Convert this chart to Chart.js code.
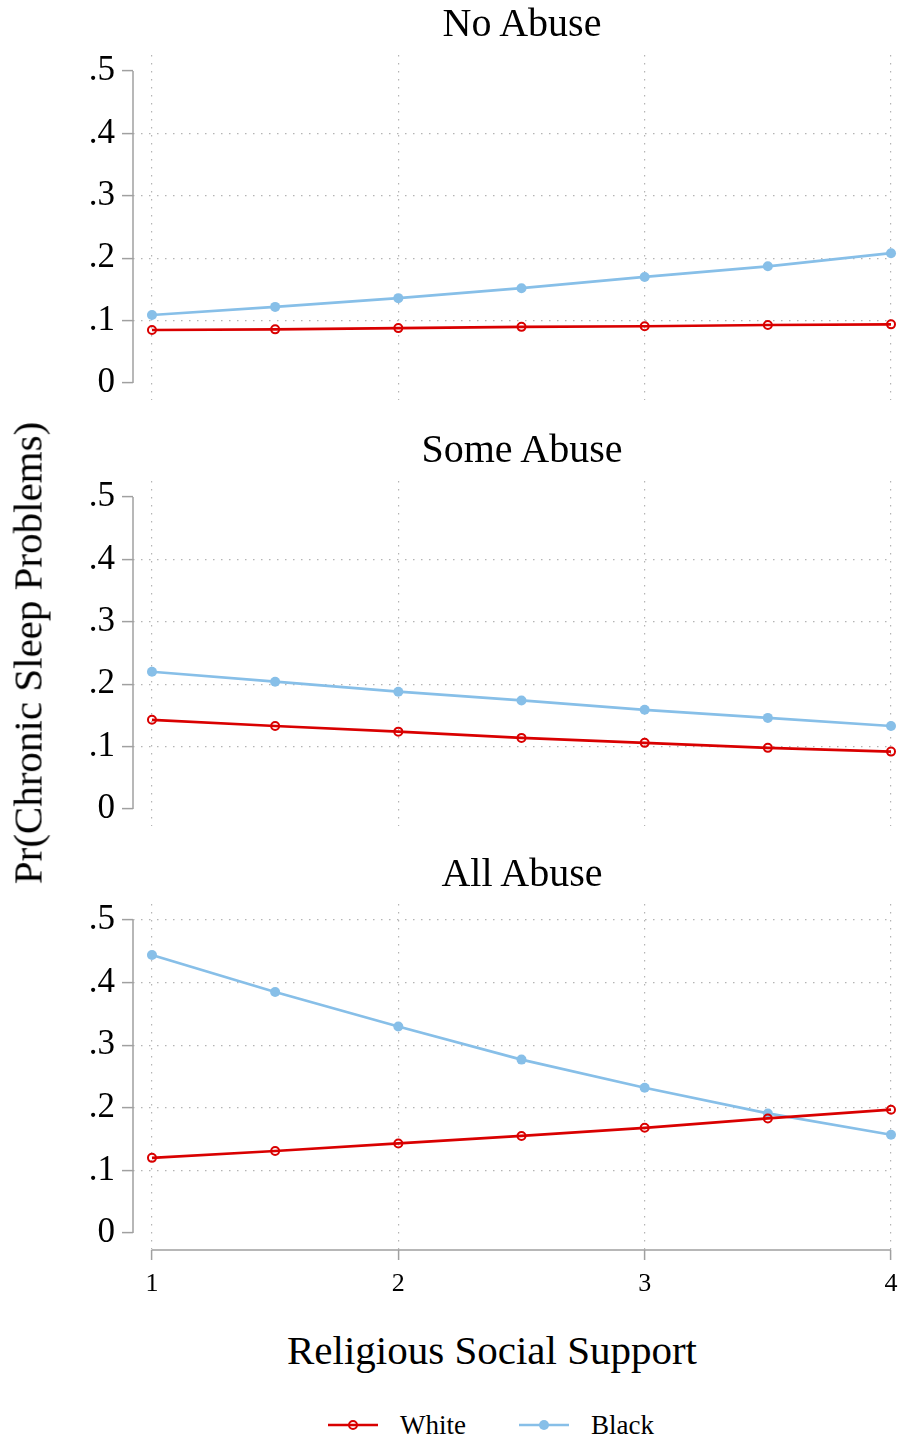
<!DOCTYPE html>
<html lang="en">

<head>
    <meta charset="UTF-8">
    <title>Pr(Chronic Sleep Problems) by Religious Social Support</title>
    <script src="https://cdn.jsdelivr.net/npm/chart.js"></script>
    <style>
        body {
            margin: 0;
            background: #fff;
            font-family: "Liberation Serif", "DejaVu Serif", serif;
            color: #000;
        }

        #page {
            position: relative;
            width: 898px;
            height: 1441px;
            overflow: hidden;
        }

        canvas {
            position: absolute;
            left: 0;
        }

        .label {
            position: absolute;
            white-space: nowrap;
            line-height: 1;
            transform: translate(-50%, -50%);
            z-index: 2;
        }

        .panel-title { font-size: 40px; left: 522px; }

        #ytitle {
            font-size: 41px;
            left: 28px;
            top: 653px;
            transform: translate(-50%, -50%) rotate(-90deg);
        }

        #xtitle { font-size: 41px; left: 492px; top: 1350px; }

        #legend {
            position: absolute;
            left: 328px;
            top: 1410px;
            height: 30px;
            display: flex;
            align-items: center;
            font-size: 27px;
        }

        #legend .item { display: flex; align-items: center; margin-right: 53px; }
        #legend svg { margin-right: 22px; }
    </style>
</head>

<body>
    <div id="page">
        <canvas id="panel1" width="898" height="415" style="top:20px"></canvas>
        <canvas id="panel2" width="898" height="415" style="top:446px"></canvas>
        <canvas id="panel3" width="898" height="431" style="top:869px"></canvas>

        <div class="label panel-title" id="title1" style="top:23px"></div>
        <div class="label panel-title" id="title2" style="top:449px"></div>
        <div class="label panel-title" id="title3" style="top:873px"></div>

        <div class="label" id="ytitle">Pr(Chronic Sleep Problems)</div>
        <div class="label" id="xtitle">Religious Social Support</div>
        <div id="legend"></div>
    </div>

    <script>
        // data
        const xValues = [1, 1.5, 2, 2.5, 3, 3.5, 4];
        const noAbuseWhite = [0.085, 0.086, 0.088, 0.090, 0.091, 0.093, 0.094];
        const noAbuseBlack = [0.109, 0.122, 0.136, 0.152, 0.170, 0.187, 0.208];
        const someAbuseWhite = [0.143, 0.133, 0.124, 0.114, 0.106, 0.098, 0.092];
        const someAbuseBlack = [0.220, 0.204, 0.188, 0.174, 0.159, 0.146, 0.133];
        const allAbuseWhite = [0.120, 0.131, 0.143, 0.155, 0.168, 0.183, 0.197];
        const allAbuseBlack = [0.444, 0.385, 0.330, 0.277, 0.232, 0.191, 0.157];

        const xTicks = [1, 2, 3, 4];
        const yTicks = [0, 0.1, 0.2, 0.3, 0.4, 0.5];
        const yTickLabels = ['0', '.1', '.2', '.3', '.4', '.5'];
        const panelTitles = ['No Abuse', 'Some Abuse', 'All Abuse'];
        const seriesNames = ['White', 'Black'];

        const red = '#d90000';
        const blue = '#87bfe8';
        const gridColor = '#b4b4b4';
        const axisColor = '#a0a0a0';
        const fontFamily = '"Liberation Serif", "DejaVu Serif", serif';

        // y axis line only runs from 0 to .5, x axis line only from 1 to 4
        const axisLines = {
            id: 'axisLines',
            beforeDatasetsDraw(chart, args, opts) {
                const { ctx, chartArea, scales } = chart;
                ctx.save();
                ctx.strokeStyle = axisColor;
                ctx.lineWidth = 1.5;
                ctx.beginPath();
                ctx.moveTo(chartArea.left, scales.y.getPixelForValue(yTicks[0]));
                ctx.lineTo(chartArea.left, scales.y.getPixelForValue(yTicks[yTicks.length - 1]));
                if (opts.showX) {
                    ctx.moveTo(scales.x.getPixelForValue(xTicks[0]), chartArea.bottom);
                    ctx.lineTo(scales.x.getPixelForValue(xTicks[xTicks.length - 1]), chartArea.bottom);
                }
                ctx.stroke();
                ctx.restore();
            }
        };

        function toPoints(values) {
            return xValues.map((x, i) => ({ x: x, y: values[i] }));
        }

        function makePanel(id, white, black, isBottom, topGrid) {
            const ctx = document.getElementById(id).getContext('2d');
            return new Chart(ctx, {
                type: 'line',
                data: {
                    datasets: [{
                        label: seriesNames[0],
                        data: toPoints(white),
                        borderColor: red,
                        borderWidth: 2.7,
                        pointRadius: 4,
                        pointBorderWidth: 2,
                        pointBorderColor: red,
                        pointBackgroundColor: 'rgba(0,0,0,0)',
                        tension: 0,
                        clip: false
                    }, {
                        label: seriesNames[1],
                        data: toPoints(black),
                        borderColor: blue,
                        borderWidth: 2.7,
                        pointRadius: 5,
                        pointBorderWidth: 0,
                        pointBackgroundColor: blue,
                        tension: 0,
                        clip: false
                    }]
                },
                options: {
                    responsive: false,
                    animation: false,
                    layout: { padding: { top: 35, right: 6, bottom: isBottom ? 0 : 35, left: 0 } },
                    plugins: {
                        legend: { display: false },
                        title: { display: false },
                        tooltip: { enabled: false },
                        axisLines: { showX: isBottom }
                    },
                    scales: {
                        x: {
                            type: 'linear',
                            min: 0.923,
                            max: 4.004,
                            afterBuildTicks: s => { s.ticks = xTicks.map(v => ({ value: v })); },
                            afterFit: s => {
                                s.height = isBottom ? 50 : 0;
                                s.paddingLeft = 0;
                                s.paddingRight = 0;
                            },
                            border: { display: false, dash: [1.5, 6.5] },
                            grid: {
                                color: gridColor,
                                lineWidth: 1.2,
                                borderDash: [1.5, 6.5],
                                drawTicks: isBottom,
                                tickLength: 10,
                                tickColor: axisColor,
                                tickWidth: 1.5
                            },
                            ticks: {
                                display: isBottom,
                                padding: 9,
                                color: '#000',
                                font: { family: fontFamily, size: 26 }
                            }
                        },
                        y: {
                            min: -0.0272,
                            max: 0.5256,
                            afterBuildTicks: s => { s.ticks = yTicks.map(v => ({ value: v })); },
                            afterFit: s => { s.width = 133; },
                            border: { display: false, dash: [1.5, 6.5] },
                            grid: {
                                color: c => {
                                    if (!c.tick) return gridColor;
                                    if (c.tick.value === 0) return 'rgba(0,0,0,0)';
                                    if (c.tick.value === 0.5 && !topGrid) return 'rgba(0,0,0,0)';
                                    return gridColor;
                                },
                                lineWidth: 1.2,
                                borderDash: [1.5, 6.5],
                                tickLength: 11,
                                tickColor: axisColor,
                                tickWidth: 1.5
                            },
                            ticks: {
                                padding: 7,
                                color: '#000',
                                font: { family: fontFamily, size: 35 },
                                callback: (v, i) => yTickLabels[i]
                            }
                        }
                    }
                },
                plugins: [axisLines]
            });
        }

        makePanel('panel1', noAbuseWhite, noAbuseBlack, false, false);
        makePanel('panel2', someAbuseWhite, someAbuseBlack, false, false);
        makePanel('panel3', allAbuseWhite, allAbuseBlack, true, true);

        panelTitles.forEach((t, i) => {
            document.getElementById('title' + (i + 1)).textContent = t;
        });

        // legend: line with marker, then name
        const legend = document.getElementById('legend');
        const legendStyles = [
            { color: red, fill: 'none', r: 4, sw: 2 },
            { color: blue, fill: blue, r: 5, sw: 0 }
        ];
        seriesNames.forEach((name, i) => {
            const st = legendStyles[i];
            const item = document.createElement('span');
            item.className = 'item';
            item.innerHTML =
                '<svg width="50" height="14" viewBox="0 0 50 14">' +
                '<line x1="0" y1="7" x2="50" y2="7" stroke="' + st.color + '" stroke-width="2.7"/>' +
                '<circle cx="25" cy="7" r="' + st.r + '" fill="' + st.fill + '" stroke="' + st.color +
                '" stroke-width="' + st.sw + '"/></svg>';
            const txt = document.createElement('span');
            txt.textContent = name;
            item.appendChild(txt);
            legend.appendChild(item);
        });
    </script>
</body>

</html>
